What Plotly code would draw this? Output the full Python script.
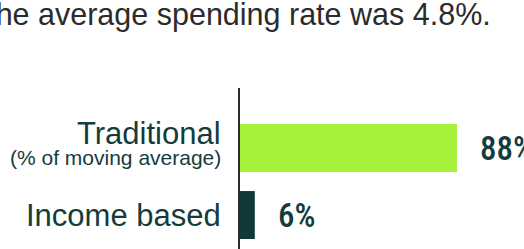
import plotly.graph_objects as go

categories = ["Income based", "Traditional"]
values = [6, 88]
value_labels = ["6%", "88%"]
bar_colors = ["#12393a", "#a6f23a"]
title_text = "The average spending rate was 4.8%."
sub_label = "(% of moving average)"

W, H = 524, 249
L, T = 240, 88
plot_w = W - L
plot_h = H - T

fig = go.Figure()
fig.add_trace(go.Bar(
    y=categories, x=values, orientation="h",
    marker=dict(color=bar_colors, line=dict(width=0)),
    width=0.716, hoverinfo="skip",
))

label_font = dict(family="Liberation Sans, Arial, sans-serif", size=31, color="#143c3c")
anns = []
# category labels
anns.append(dict(x=0, xref="paper", y="Traditional", yref="y", text="Traditional",
                 xanchor="right", yanchor="middle", xshift=-17, yshift=15,
                 showarrow=False, font=label_font))
anns.append(dict(x=0, xref="paper", y="Traditional", yref="y", text=sub_label,
                 xanchor="right", yanchor="middle", xshift=-17, yshift=-9,
                 showarrow=False, font=dict(family=label_font["family"], size=21, color="#143c3c")))
anns.append(dict(x=0, xref="paper", y="Income based", yref="y", text="Income based",
                 xanchor="right", yanchor="middle", xshift=-17, yshift=0,
                 showarrow=False, font=label_font))
# value labels
for c, v, t in zip(categories, values, value_labels):
    anns.append(dict(x=v, xref="x", y=c, yref="y", text=t, xanchor="left", yanchor="middle",
                     xshift=21, showarrow=False,
                     font=dict(family="Roboto Condensed, Liberation Sans Narrow, Roboto, sans-serif",
                               size=33, color="#143c3c", weight=500)))
# title (left part clipped by canvas)
anns.append(dict(x=(493 - L) / plot_w, xref="paper", y=1 + (T - 14) / plot_h, yref="paper",
                 text=title_text, xanchor="right", yanchor="middle", showarrow=False,
                 font=dict(family="Liberation Sans, Arial, sans-serif", size=30.5, color="#2b2b2b")))

px_per_unit = 217 / 88
fig.update_layout(
    width=W, height=H,
    margin=dict(l=L, r=0, t=T, b=0, pad=0),
    paper_bgcolor="white", plot_bgcolor="white",
    showlegend=False,
    annotations=anns,
    xaxis=dict(range=[0, plot_w / px_per_unit], visible=False, fixedrange=True),
    yaxis=dict(categoryorder="array", categoryarray=categories,
               range=[-0.507, 1.896], showticklabels=False, ticks="",
               showgrid=False, zeroline=False,
               showline=True, linecolor="#2e2e2e", linewidth=2, fixedrange=True),
)

fig.write_html("out.html", config={"displayModeBar": False},
               post_script="document.body.style.margin='0';document.body.style.overflow='hidden';")
